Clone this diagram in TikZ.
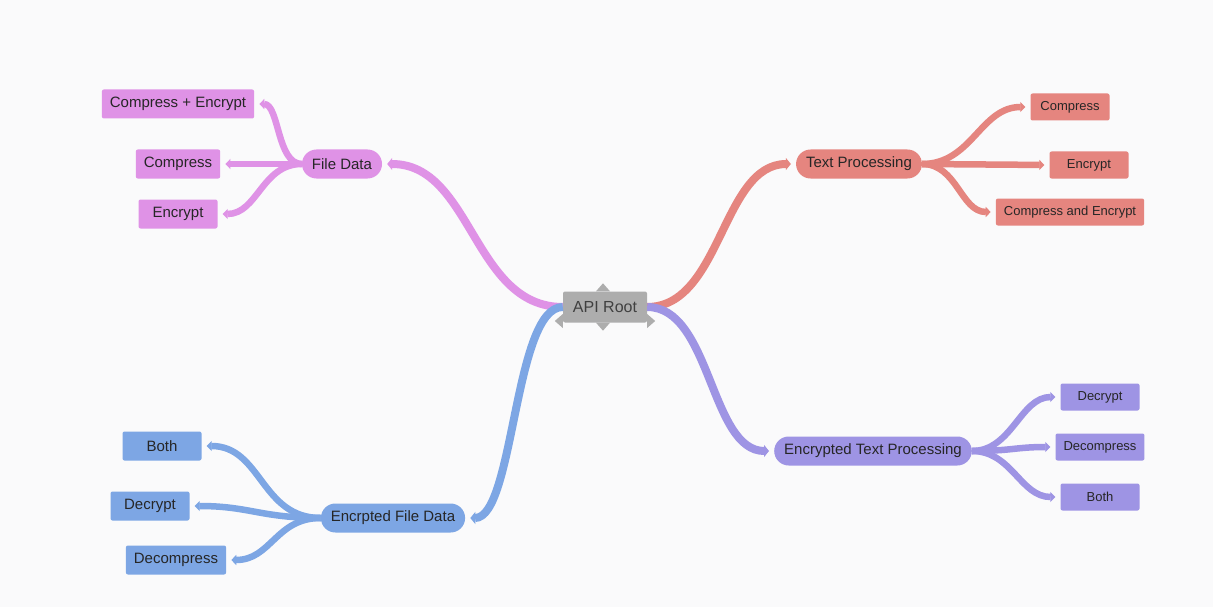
\documentclass[tikz,border=0pt]{standalone}
\usepackage{fontspec}
\setmainfont{Liberation Sans}
\usetikzlibrary{arrows.meta}
\definecolor{bgc}{HTML}{FAFAFB}
\definecolor{rootc}{HTML}{ADADAD}
\definecolor{pinkc}{HTML}{DF92E6}
\definecolor{redc}{HTML}{E5857F}
\definecolor{bluec}{HTML}{7DA6E4}
\definecolor{violetc}{HTML}{9E94E4}
\begin{document}
\begin{tikzpicture}[x=1pt,y=-1pt,line join=round,font=\fontsize{15}{17}\selectfont,
	branch/.style={line width=8pt,line cap=butt,shorten >=5pt,-{Triangle[length=5pt,width=12pt]}},
	twig/.style={line width=6.5pt,line cap=butt,shorten >=5pt,-{Triangle[length=5pt,width=10pt]}},
	topic/.style={rounded corners=14.5pt,minimum height=29pt,inner xsep=10pt,text=black!85},
	leaf/.style={rounded corners=2pt,minimum height=29pt,minimum width=79pt,inner xsep=8pt,text=black!85},
	small/.style={minimum height=27pt,font=\fontsize{13}{15}\selectfont}]
	\fill[bgc] (0,0) rectangle (1213,607);
	\useasboundingbox (0,0) rectangle (1213,607);
	%Root
	\node[fill=rootc,rounded corners=2pt,minimum width=84pt,minimum height=31pt,inner sep=0pt,text=black!75,font=\fontsize{16}{18}\selectfont] (root) at (605,307) {API Root};
	\fill[rootc] ([xshift=-9pt]root.north) -- ++(7,-8) -- ++(7,8) -- cycle;
	\fill[rootc] ([xshift=-9pt]root.south) -- ++(7,8) -- ++(7,-8) -- cycle;
	\fill[rootc] ([yshift=-7pt]root.west) -- ++(-8,7) -- ++(8,7) -- cycle;
	\fill[rootc] ([yshift=-7pt]root.east) -- ++(8,7) -- ++(-8,7) -- cycle;
	%Topics
	\node[topic,fill=pinkc] (fd) at (342,164) {File Data};
	\node[topic,fill=redc] (tp) at (859,164) {Text Processing};
	\node[topic,fill=bluec] (efd) at (393,518) {Encrpted File Data};
	\node[topic,fill=violetc] (etp) at (873,451) {Encrypted Text Processing};
	%Leaves
	\node[leaf,fill=pinkc] (fce) at (178,104) {Compress + Encrypt};
	\node[leaf,fill=pinkc] (fc) at (178,164) {Compress};
	\node[leaf,fill=pinkc] (fe) at (178,214) {Encrypt};
	\node[leaf,small,fill=redc] (tc) at (1070,107) {Compress};
	\node[leaf,small,fill=redc] (te) at (1089,165) {Encrypt};
	\node[leaf,small,fill=redc] (tce) at (1070,212) {Compress and Encrypt};
	\node[leaf,fill=bluec] (eb) at (162,446) {Both};
	\node[leaf,fill=bluec] (ed) at (150,506) {Decrypt};
	\node[leaf,fill=bluec] (edc) at (176,560) {Decompress};
	\node[leaf,small,fill=violetc] (xd) at (1100,397) {Decrypt};
	\node[leaf,small,fill=violetc] (xdc) at (1100,447) {Decompress};
	\node[leaf,small,fill=violetc] (xb) at (1100,497) {Both};
	%Branches
	\draw[branch,pinkc] (root.west) .. controls +(-90,0) and +(90,0) .. (fd.east);
	\draw[branch,redc] (root.east) .. controls +(74,0) and +(-74,0) .. (tp.west);
	\draw[branch,bluec] (root.west) .. controls +(-49,0) and +(49,0) .. (efd.east);
	\draw[branch,violetc] (root.east) .. controls +(64,0) and +(-64,0) .. (etp.west);
	%Twigs
	\draw[twig,pinkc] (fd.west) .. controls +(-25,0) and +(25,0) .. (fce.east);
	\draw[twig,pinkc] (fd.west) -- (fc.east);
	\draw[twig,pinkc] (fd.west) .. controls +(-40,0) and +(40,0) .. (fe.east);
	\draw[twig,redc] (tp.east) .. controls +(50,0) and +(-50,0) .. (tc.west);
	\draw[twig,redc] (tp.east) -- (te.west);
	\draw[twig,redc] (tp.east) .. controls +(35,0) and +(-35,0) .. (tce.west);
	\draw[twig,bluec] (efd.west) .. controls +(-60,0) and +(60,0) .. (eb.east);
	\draw[twig,bluec] (efd.west) .. controls +(-60,0) and +(60,0) .. (ed.east);
	\draw[twig,bluec] (efd.west) .. controls +(-45,0) and +(45,0) .. (edc.east);
	\draw[twig,violetc] (etp.east) .. controls +(40,0) and +(-40,0) .. (xd.west);
	\draw[twig,violetc] (etp.east) .. controls +(40,0) and +(-40,0) .. (xdc.west);
	\draw[twig,violetc] (etp.east) .. controls +(40,0) and +(-40,0) .. (xb.west);
\end{tikzpicture}
\end{document}
